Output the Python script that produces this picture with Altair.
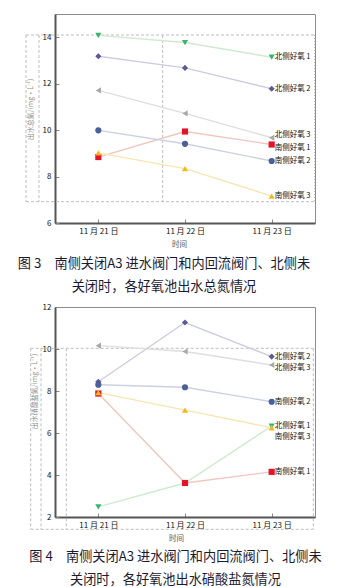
import altair as alt
import pandas as pd

dates = ["11 月 21 日", "11 月 22 日", "11 月 23 日"]
series = ["北侧好氧 1", "北侧好氧 2", "北侧好氧 3", "南侧好氧 1", "南侧好氧 2", "南侧好氧 3"]

# Fig 3: effluent total nitrogen (mg/L)
tn_n1 = [14.08, 13.77, 13.14]
tn_n2 = [13.18, 12.68, 11.78]
tn_n3 = [11.71, 10.72, 9.67]
tn_s1 = [8.84, 9.94, 9.38]
tn_s2 = [9.99, 9.41, 8.67]
tn_s3 = [9.02, 8.34, 7.16]

# Fig 4: effluent nitrate nitrogen (mg/L)
no3_n1 = [2.48, 3.62, 6.33]
no3_n2 = [8.44, 11.26, 9.64]
no3_n3 = [10.16, 9.88, 9.24]
no3_s1 = [7.88, 3.62, 4.15]
no3_s2 = [8.30, 8.18, 7.49]
no3_s3 = [7.92, 7.09, 6.25]

y1_ticks = [6, 8, 10, 12, 14]
y2_ticks = [2, 4, 6, 8, 10, 12]

point_colors = ["#36b56f", "#5a5a96", "#a8a8a8", "#e3132b", "#4b5f98", "#f2b81e"]
line_colors = ["#cfeacf", "#cdcde0", "#dedede", "#f0c6bd", "#cdd0e0", "#f7e6b2"]
shapes = ["triangle-down", "diamond", "triangle-left", "square", "circle", "triangle-up"]

CJK = "Noto Sans CJK SC"


def deco_rule(x1, x2, y1, y2, dash=(3, 2)):
    return alt.Chart(pd.DataFrame({"k": [0]})).mark_rule(
        color="#bdbdbd", strokeWidth=1, strokeDash=list(dash)
    ).encode(x=alt.value(x1), x2=alt.value(x2), y=alt.value(y1), y2=alt.value(y2))


def panel(values, ydom, yticks, ytitle, caption, label_dy, decos, w, h,
          xtitle_x, ytitle_x, ytitle_y, cap_dx, cap_offset):
    rows = []
    for s, vals in zip(series, values):
        for d, v in zip(dates, vals):
            rows.append({"date": d, "series": s, "value": v, "dy": label_dy.get(s, 0)})
    df = pd.DataFrame(rows)

    x = alt.X("date:N", sort=dates, scale=alt.Scale(type="point", padding=0.5),
              axis=alt.Axis(title="时间", labelAngle=0, titleX=xtitle_x, titleY=21,
                            titleBaseline="middle", titleAlign="center"))
    y = alt.Y("value:Q", scale=alt.Scale(domain=ydom, nice=False, zero=False),
              axis=alt.Axis(values=yticks, title=ytitle, titleX=ytitle_x, titleY=ytitle_y,
                            titleAlign="center", titleBaseline="middle", titleAngle=270))
    base = alt.Chart(df)
    lines = base.mark_line(strokeWidth=1.4).encode(
        x=x, y=y,
        color=alt.Color("series:N", scale=alt.Scale(domain=series, range=line_colors), legend=None),
        detail="series:N")
    points = base.mark_point(filled=True, size=38, opacity=1).encode(
        x=x, y=y,
        color=alt.Color("series:N", scale=alt.Scale(domain=series, range=point_colors), legend=None),
        shape=alt.Shape("series:N", scale=alt.Scale(domain=series, range=shapes), legend=None))
    label_layers = []
    for dyv in sorted(set(df["dy"])):
        label_layers.append(
            base.transform_filter((alt.datum.date == dates[-1]) & (alt.datum.dy == dyv))
            .mark_text(align="left", baseline="middle", dx=3, dy=dyv, fontSize=7.5, font=CJK, color="#111")
            .encode(x=x, y=y, text="series:N"))
    deco_layers = [deco_rule(*d) for d in decos]
    return alt.layer(*deco_layers, lines, points, *label_layers).resolve_scale(
        color="independent", shape="independent"
    ).properties(
        width=w, height=h,
        title=alt.TitleParams(text=caption, orient="bottom", anchor="middle", frame="group",
                              dx=cap_dx, offset=cap_offset, fontSize=13.2, font=CJK,
                              fontWeight="normal", color="#1a1a33", lineHeight=23))


decos1 = [
    (-29, 260, 21, 21), (-29, 260, 187.7, 187.7),
    (-29, -29, 21, 187.7), (-16, -16, 21, 187.7), (107.7, 107.7, 21, 187.7),
    (259.5, 259.5, 21, 187.7, (1, 2)),
]
decos2 = [
    (-24.3, 258.3, 41.3, 41.3), (-24.3, 258.3, 222.3, 222.3),
    (-24.3, -24.3, 41.3, 222.3), (-14, -14, 41.3, 222.3), (11.3, 11.3, 41.3, 222.3),
    (258.3, 258.3, 41.3, 222.3),
]

c1 = panel([tn_n1, tn_n2, tn_n3, tn_s1, tn_s2, tn_s3], [6, 15], y1_ticks, "出水总氮/(mg·L⁻¹)",
           ["图 3　南侧关闭A3 进水阀门和内回流阀门、北侧未", "关闭时，各好氧池出水总氮情况"],
           {"北侧好氧 3": -3, "南侧好氧 1": 3}, decos1, 260, 209,
           124, -25, 95, -21, 10)
c2 = panel([no3_n1, no3_n2, no3_n3, no3_s1, no3_s2, no3_s3], [2, 12], y2_ticks, "出水硝酸盐氮/(mg·L⁻¹)",
           ["图 4　南侧关闭A3 进水阀门和内回流阀门、北侧未", "关闭时，各好氧池出水硝酸盐氮情况"],
           {"北侧好氧 3": 3, "南侧好氧 3": 9}, decos2, 260, 210,
           121, -21, 84, -9.5, 9)

chart = alt.vconcat(c1, c2, spacing=8).properties(
    padding={"left": 17, "top": 13, "right": 0, "bottom": 0}
).configure_view(stroke="#8c8c8c", strokeWidth=1).configure_axis(
    domainColor="#555", domainWidth=2, tickColor="#888", tickWidth=1,
    tickSize={"expr": "-4"}, labelPadding=8, labelFont=CJK, labelFontSize=8,
    labelColor="#111", titleFont=CJK, titleFontSize=7, titleFontWeight="normal",
    titleColor="#8a8a8a", grid=False
).configure_axisX(titleColor="#555", titleFontSize=7.5)

chart.save("out.html", embed_options={"renderer": "svg", "actions": False})
